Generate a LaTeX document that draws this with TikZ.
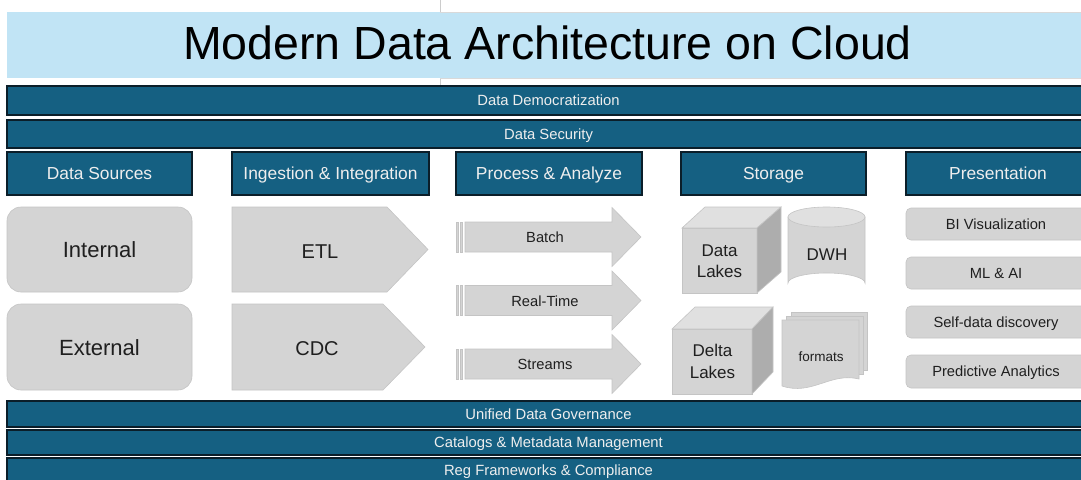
\documentclass[tikz,border=0pt]{standalone}
\usepackage{fontspec}
\setmainfont{Liberation Sans}
\definecolor{tealbar}{HTML}{156082}
\definecolor{titlebg}{HTML}{C1E4F5}
\definecolor{boxgray}{HTML}{D4D4D4}
\definecolor{boxedge}{HTML}{C4C4C4}
\definecolor{topgray}{HTML}{E0E0E0}
\definecolor{sidegray}{HTML}{ADADAD}
\definecolor{bartxt}{HTML}{EEEEEE}
\definecolor{bandedge}{HTML}{0B1E29}
\begin{document}
\begin{tikzpicture}[x=1pt,y=-1pt,
  band/.style={fill=tealbar, draw=bandedge, line width=1.3pt},
  bandtext/.style={text=bartxt, font=\fontsize{14.8}{17}\selectfont, inner sep=0pt, anchor=base},
  headtext/.style={text=bartxt, font=\fontsize{17.4}{20}\selectfont, inner sep=0pt, anchor=base},
  grayshape/.style={fill=boxgray, draw=boxedge, line width=0.6pt},
  topface/.style={fill=topgray, draw=boxedge, line width=0.6pt},
  sideface/.style={fill=sidegray, draw=boxedge, line width=0.6pt},
  bigtext/.style={text=black!88, font=\fontsize{22}{26}\selectfont, inner sep=0pt, anchor=base},
  midtext/.style={text=black!88, font=\fontsize{20}{24}\selectfont, inner sep=0pt, anchor=base},
  stortext/.style={text=black!88, font=\fontsize{17}{20}\selectfont, inner sep=0pt, anchor=base},
  smalltext/.style={text=black!88, font=\fontsize{14.7}{17}\selectfont, inner sep=0pt, anchor=base},
  fmttext/.style={text=black!88, font=\fontsize{13.5}{16}\selectfont, inner sep=0pt, anchor=base}
]
\useasboundingbox (0,0) rectangle (1081,479);
\fill[white] (0,0) rectangle (1081,479);

% title band
\fill[titlebg] (7,12) rectangle (1090,78);
\draw[black!20, line width=0.7pt] (440,0) -- (440,12);
\draw[black!20, line width=0.7pt] (440,78) -- (440,85);
\draw[black!15, line width=0.5pt] (440,12) -- (1090,12);
\draw[black!15, line width=0.5pt] (440,78) -- (1090,78);
\node[font=\fontsize{46.5}{52}\selectfont, inner sep=0pt, anchor=base] (title) at (547.5,59.5) {Modern Data Architecture on Cloud};

% top bands
\path[band] (7,86) rectangle (1092,115);
\node[bandtext] (democ) at (548.5,105.7) {Data Democratization};
\path[band] (7,120) rectangle (1092,148);
\node[bandtext] (secur) at (548.5,139.2) {Data Security};

% headers
\path[band] (7,152) rectangle (192,195);
\node[headtext] (hsrc) at (99.5,179.5) {Data Sources};
\path[band] (232,152) rectangle (429,195);
\node[headtext] (hing) at (330.5,179.5) {Ingestion \& Integration};
\path[band] (456,152) rectangle (642,195);
\node[headtext] (hproc) at (549,179.5) {Process \& Analyze};
\path[band] (681,152) rectangle (866,195);
\node[headtext] (hstor) at (773.5,179.5) {Storage};
\path[band] (906,152) rectangle (1092,195);
\node[headtext] (hpres) at (998,179.5) {Presentation};

% sources
\path[grayshape, rounded corners=14pt] (7,207) rectangle (192,292);
\node[bigtext] (internal) at (99.5,257.5) {Internal};
\path[grayshape, rounded corners=14pt] (7,304) rectangle (192,390);
\node[bigtext] (external) at (99.5,355.5) {External};

% ingestion
\path[grayshape] (232,207) -- (387,207) -- (428,249.5) -- (387,292) -- (232,292) -- cycle;
\node[midtext] (etl) at (320,258.3) {ETL};
\path[grayshape] (232,304) -- (383,304) -- (425,347) -- (383,390) -- (232,390) -- cycle;
\node[midtext] (cdc) at (317,355.3) {CDC};

% process arrows
\foreach \cy/\nm/\lab/\bl in {237/batch/Batch/242.5, 300.5/realtime/Real-Time/306.5, 364/streams/Streams/369.5}{
  \path[grayshape] (465,\cy-15) -- (612,\cy-15) -- (612,\cy-29.5) -- (641,\cy) -- (612,\cy+29.5) -- (612,\cy+15) -- (465,\cy+15) -- cycle;
  \path[grayshape, line width=0.4pt] (456,\cy-15) rectangle (458.6,\cy+15);
  \path[grayshape, line width=0.4pt] (460,\cy-15) rectangle (462.6,\cy+15);
  \node[smalltext] (\nm) at (545,\bl) {\lab};
}

% storage: Data Lakes cube
\path[grayshape] (682,228) rectangle (757,293);
\path[topface] (682,228) -- (705,207) -- (781,207) -- (757,228) -- cycle;
\path[sideface] (757,228) -- (781,207) -- (781,272) -- (757,293) -- cycle;
\node[stortext] (dl1) at (719.5,256) {Data};
\node[stortext] (dl2) at (719.5,277) {Lakes};

% DWH cylinder
\path[grayshape] (788,217) -- (788,283) arc[start angle=180, end angle=360, x radius=38.5, y radius=10] -- (865,217) -- cycle;
\path[topface] (826.5,217) ellipse[x radius=38.5, y radius=10];
\node[stortext] (dwh) at (827,260) {DWH};

% Delta Lakes cube
\path[grayshape] (672,329) rectangle (752,394);
\path[topface] (672,329) -- (695,307) -- (773,307) -- (752,329) -- cycle;
\path[sideface] (752,329) -- (773,307) -- (773,372) -- (752,394) -- cycle;
\node[stortext] (del1) at (712.5,356.5) {Delta};
\node[stortext] (del2) at (712.5,378) {Lakes};

% formats (multiple documents)
\path[grayshape] (791,312) -- (867,312) -- (867,370) -- (791,370) -- cycle;
\path[grayshape] (786.5,316) -- (863,316) -- (863,374) -- (786.5,374) -- cycle;
\path[grayshape] (782,320) -- (859,320) -- (859,379) .. controls (830,372) and (812,396) .. (782,386) -- cycle;
\node[fmttext] (fmt) at (821,361) {formats};

% presentation
\path[grayshape, rounded corners=5pt] (906,208) rectangle (1090,240);
\node[smalltext] (bi) at (996,229) {BI Visualization};
\path[grayshape, rounded corners=5pt] (906,257) rectangle (1090,289);
\node[smalltext] (ml) at (996,278.3) {ML \& AI};
\path[grayshape, rounded corners=5pt] (906,306) rectangle (1090,338);
\node[smalltext] (self) at (996,327.3) {Self-data discovery};
\path[grayshape, rounded corners=5pt] (906,355) rectangle (1090,388);
\node[smalltext] (pred) at (996,376.7) {Predictive Analytics};

% bottom bands
\path[band] (7,401) rectangle (1092,427);
\node[bandtext] (gov) at (548.5,419) {Unified Data Governance};
\path[band] (7,430) rectangle (1092,455);
\node[bandtext] (cat) at (548.5,447.5) {Catalogs \& Metadata Management};
\path[band] (7,458) rectangle (1092,486);
\node[bandtext] (reg) at (548.5,475) {Reg Frameworks \& Compliance};
\end{tikzpicture}
\end{document}
